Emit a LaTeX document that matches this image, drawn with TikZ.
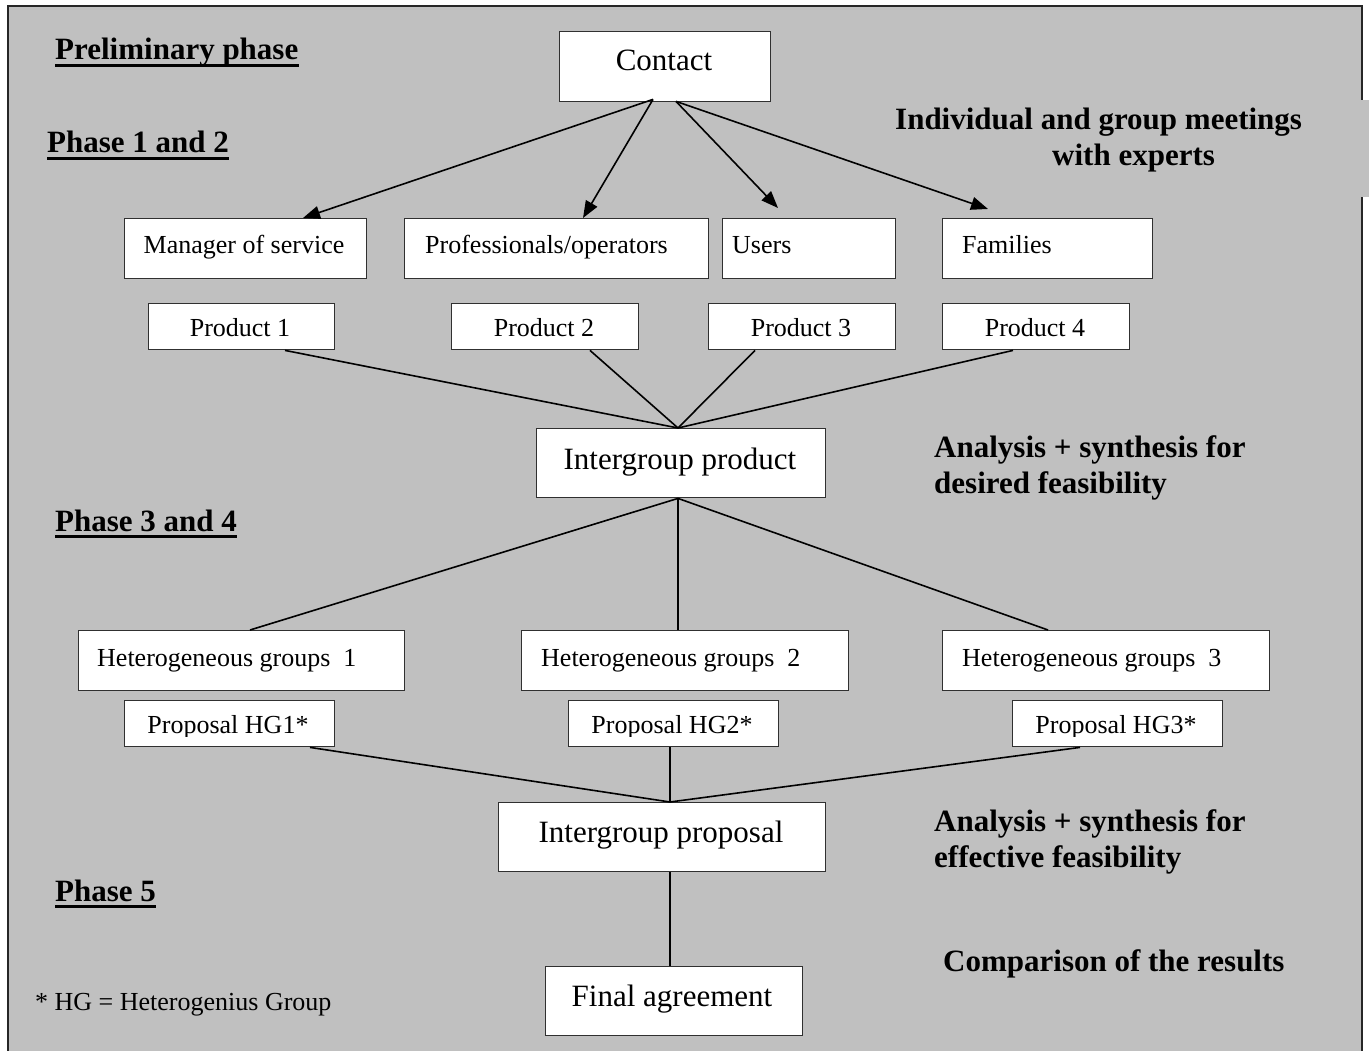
\documentclass[tikz,border=0pt]{standalone}
\usepackage{fontspec}
\setmainfont{Liberation Serif}
\usetikzlibrary{calc,arrows.meta}
\definecolor{panel}{HTML}{C0C0C0}
\definecolor{edge}{HTML}{303030}

% box given by its top-left and bottom-right corners (x1,y1,x2,y2)
\newcommand\flowbox[5]{%
  \node[box, anchor=north west, minimum width={#4-#2}, minimum height={#5-#3}] (#1) at (#2,#3) {};}

\begin{document}
\begin{tikzpicture}[x=1pt, y=-1pt,
  box/.style={draw=edge, fill=white, line width=1.4pt, inner sep=0pt},
  boxtxt/.style={inner sep=0pt, anchor=base, font=\fontsize{26}{30}\selectfont},
  bigtxt/.style={inner sep=0pt, anchor=base, font=\fontsize{31}{36}\selectfont},
  bold/.style={inner sep=0pt, anchor=base west, font=\fontsize{31}{36}\selectfont\bfseries},
  phase/.style={bold},
  uline/.style={line width=3pt},
  link/.style={line width=1.6pt},
  arr/.style={line width=1.6pt, -{Triangle[length=17pt, width=13pt]}}]

\clip (0,0) rectangle (1369,1051);
\fill[white] (0,0) rectangle (1369,1051);

% grey panel with its frame
\fill[panel] (8,6) rectangle (1362,1070);
\draw[line width=2pt, black!85] (8,1070) -- (8,6) -- (1362,6) -- (1362,1070);
\fill[panel] (880,100) rectangle (1369,197);

% boxes
\flowbox{contact}{559}{31}{770}{101}
\flowbox{mgr}{124}{218}{366}{278}
\flowbox{prof}{404}{218}{708}{278}
\flowbox{users}{722}{218}{895}{278}
\flowbox{fam}{942}{218}{1152}{278}
\flowbox{prA}{148}{303}{334}{349}
\flowbox{prB}{451}{303}{638}{349}
\flowbox{prC}{708}{303}{895}{349}
\flowbox{prD}{942}{303}{1129}{349}
\flowbox{igprod}{536}{428}{825}{497}
\flowbox{hgA}{78}{630}{404}{690}
\flowbox{hgB}{521}{630}{848}{690}
\flowbox{hgC}{942}{630}{1269}{690}
\flowbox{propA}{124}{700}{334}{746}
\flowbox{propB}{568}{700}{778}{746}
\flowbox{propC}{1012}{700}{1222}{746}
\flowbox{igprop}{498}{802}{825}{871}
\flowbox{final}{545}{966}{802}{1035}

% box texts
\node[bigtxt] (tcontact) at (664,71) {Contact};
\node[boxtxt] (tmgr) at (244,254) {Manager of service};
\node[boxtxt, anchor=base west] (tprof) at (425,254) {Professionals/operators};
\node[boxtxt, anchor=base west] (tusers) at (732,254) {Users};
\node[boxtxt, anchor=base west] (tfam) at (962,254) {Families};
\node[boxtxt] (tprA) at (240,337) {Product 1};
\node[boxtxt] (tprB) at (544,337) {Product 2};
\node[boxtxt] (tprC) at (801,337) {Product 3};
\node[boxtxt] (tprD) at (1035,337) {Product 4};
\node[bigtxt] (tigprod) at (680,469) {Intergroup product};
\node[boxtxt, anchor=base west] (thgA) at (97,666) {Heterogeneous groups~~1};
\node[boxtxt, anchor=base west] (thgB) at (541,666) {Heterogeneous groups~~2};
\node[boxtxt, anchor=base west] (thgC) at (962,666) {Heterogeneous groups~~3};
\begin{scope}
  \clip (100,690) rectangle (1250,736);
  \node[boxtxt] (tpropA) at (228,733) {Proposal HG1*};
  \node[boxtxt] (tpropB) at (672,733) {Proposal HG2*};
  \node[boxtxt] (tpropC) at (1116,733) {Proposal HG3*};
\end{scope}
\node[bigtxt] (tigprop) at (661,842) {Intergroup proposal};
\node[bigtxt] (tfinal) at (672,1006) {Final agreement};

% arrows from the contact box
\draw[arr] ($(contact.south west)+(94,-3)$) -- ($(mgr.north west)+(179,0)$);
\draw[arr] ($(contact.south west)+(94,-3)$) -- ($(prof.north west)+(179,0)$);
\draw[arr] ($(contact.south west)+(117,-1)$) -- ($(users.north west)+(56,-10)$);
\draw[arr] ($(contact.south west)+(117,-1)$) -- ($(fam.north west)+(46,-9)$);

% products merge into the intergroup product
\coordinate (mergeA) at ($(igprod.north west)+(142,0)$);
\draw[link] ($(prA.south west)+(137,0)$) -- (mergeA);
\draw[link] ($(prB.south west)+(139,0)$) -- (mergeA);
\draw[link] ($(prC.south west)+(47,0)$) -- (mergeA);
\draw[link] ($(prD.south west)+(71,0)$) -- (mergeA);

% intergroup product splits into the heterogeneous groups
\coordinate (splitA) at ($(igprod.south west)+(142,0)$);
\draw[link] (splitA) -- ($(hgA.north west)+(172,0)$);
\draw[link] (splitA) -- (splitA |- hgB.north);
\draw[link] (splitA) -- ($(hgC.north west)+(106,0)$);

% proposals merge into the intergroup proposal
\coordinate (mergeB) at ($(igprop.north west)+(172,0)$);
\draw[link] ($(propA.south west)+(186,0)$) -- (mergeB);
\draw[link] (mergeB |- propB.south) -- (mergeB);
\draw[link] ($(propC.south west)+(68,0)$) -- (mergeB);
\draw[link] ($(igprop.south west)+(172,0)$) -- (final.north -| mergeB);

% phase headings
\node[phase] (ph0) at (55,60) {Preliminary phase};
\node[phase] (ph1) at (47,153) {Phase 1 and 2};
\node[phase] (ph2) at (55,531) {Phase 3 and 4};
\node[phase] (ph3) at (55,901) {Phase 5};
\foreach \p in {ph0,ph1,ph2,ph3}
  \draw[uline] ([yshift=-5.5pt]\p.base west) -- ([yshift=-5.5pt]\p.base east);

% side notes
\node[bold] (n1a) at (895,130) {Individual and group meetings};
\node[bold] (n1b) at (1052,166) {with experts};
\node[bold] (n2a) at (934,457) {Analysis + synthesis for};
\node[bold] (n2b) at (934,493) {desired feasibility};
\node[bold] (n3a) at (934,831) {Analysis + synthesis for};
\node[bold] (n3b) at (934,867) {effective feasibility};
\node[bold] (n4) at (943,971) {Comparison of the results};

\node[boxtxt, anchor=base west] (foot) at (35,1010) {* HG = Heterogenius Group};
\end{tikzpicture}
\end{document}
